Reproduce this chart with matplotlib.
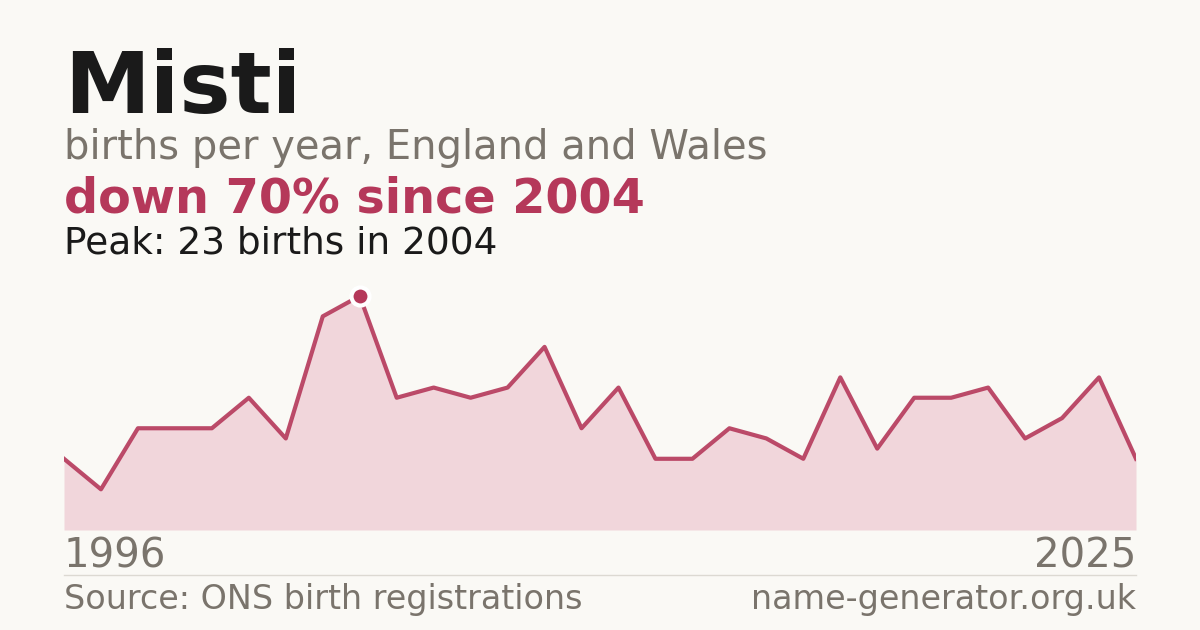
import matplotlib
matplotlib.use("Agg")
import matplotlib.pyplot as plt

years = list(range(1996, 2026))
births = [7, 4, 10, 10, 10, 13, 9, 21, 23, 13, 14, 13, 14, 18, 10,
          14, 7, 7, 10, 9, 7, 15, 8, 13, 13, 14, 9, 11, 15, 7]

name = "Misti"
subtitle = "births per year, England and Wales"
headline = "down 70% since 2004"
peak_note = "Peak: 23 births in 2004"
source = "Source: ONS birth registrations"
site = "name-generator.org.uk"

BG = "#faf9f5"
RED = "#b5385a"
FILL = "#f1d6db"
GREY = "#7a746c"
INK = "#1a1a1a"

W, H = 1200, 630
fig = plt.figure(figsize=(W / 100, H / 100), dpi=100, facecolor=BG)

# plot area: x 64..1136 px, y 530 (zero) .. 296 (peak)
ax = fig.add_axes([64 / W, 1 - 530 / H, 1072 / W, 234 / H])
ax.set_facecolor("none")
ax.fill_between(years, births, 0, color=FILL, linewidth=0)
ax.plot(years, births, color=RED, linewidth=3, alpha=0.9)
peak = max(births)
peak_year = years[births.index(peak)]
ax.plot([peak_year], [peak], "o", color=RED, markersize=13,
        markeredgecolor="white", markeredgewidth=3, clip_on=False)
ax.set_xlim(years[0], years[-1])
ax.set_ylim(0, peak)
ax.axis("off")

fig.text(64 / W, 1 - 90 / H, name, fontsize=62, fontweight="bold",
         color=INK, va="center")
fig.text(64 / W, 1 - 148 / H, subtitle, fontsize=28.8, color=GREY, va="center")
fig.text(64 / W, 1 - 199 / H, headline, fontsize=34.4, fontweight="bold",
         color=RED, va="center")
fig.text(64 / W, 1 - 243 / H, peak_note, fontsize=27, color=INK, va="center")

fig.text(64 / W, 1 - 557 / H, str(years[0]), fontsize=29, color=GREY, va="center")
fig.text(1136 / W, 1 - 557 / H, str(years[-1]), fontsize=29, color=GREY,
         va="center", ha="right")
fig.add_artist(plt.Line2D([64 / W, 1136 / W], [1 - 575 / H, 1 - 575 / H],
                          color="#dcd9d2", linewidth=1))
fig.text(64 / W, 1 - 600 / H, source, fontsize=24, color=GREY, va="center")
fig.text(1136 / W, 1 - 600 / H, site, fontsize=24, color=GREY,
         va="center", ha="right")

fig.savefig("out.png", dpi=100, facecolor=BG)
